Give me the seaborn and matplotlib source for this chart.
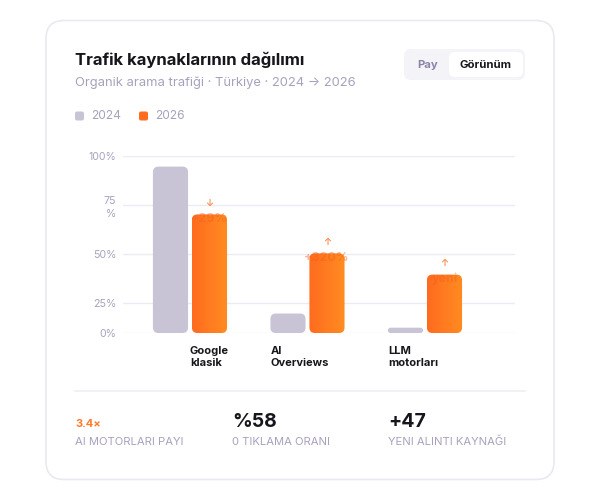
import numpy as np
import pandas as pd
import matplotlib.pyplot as plt
import seaborn as sns
from matplotlib.patches import FancyBboxPatch

# Datos
categorias = ['Google\nklasik', 'AI\nOverviews', 'LLM\nmotorları']
anios = ['2024', '2026']
valores_2024 = [94, 11, 3]
valores_2026 = [67, 45, 33]
cambios = ['−29%', '+320%', 'yeni']
flechas = ['↓', '↑', '↑']
ytick_labels = ['0%', '25%', '50%', '75\n%', '100%']
stat_valores = ['3.4×', '%58', '+47']
stat_textos = ['AI MOTORLARI PAYI', '0 TIKLAMA ORANI', 'YENI ALINTI KAYNAĞI']

gris = '#C9C3D6'
naranja = '#FF6B1F'
naranja2 = '#FF8C22'
texto_gris = '#A8A1BD'
oscuro = '#17161C'

df = pd.DataFrame({
    'categoria': categorias * 2,
    'anio': [anios[0]] * 3 + [anios[1]] * 3,
    'valor': valores_2024 + valores_2026,
})

sns.set_style('white')
plt.rcParams['font.family'] = ['Inter', 'DejaVu Sans']

fig = plt.figure(figsize=(6, 5), dpi=100)

# Fondo / tarjeta en coordenadas de pixel
bg = fig.add_axes([0, 0, 1, 1], zorder=0)
bg.set_xlim(0, 600)
bg.set_ylim(500, 0)
bg.axis('off')
bg.add_patch(FancyBboxPatch((46, 20.5), 508, 459, boxstyle='round,pad=0,rounding_size=18',
                            facecolor='white', edgecolor='#EAE9F0', lw=1.2))

bg.text(75, 60, 'Trafik kaynaklarının dağılımı', fontsize=12, fontweight='bold',
        color=oscuro, va='center', ha='left')
bg.text(75, 82.5, 'Organik arama trafiği · Türkiye · 2024 → 2026', fontsize=9.35,
        color=texto_gris, va='center', ha='left')

# Botón Pay / Görünüm
bg.add_patch(FancyBboxPatch((404, 49), 121, 31, boxstyle='round,pad=0,rounding_size=7',
                            facecolor='#F4F3F8', edgecolor='none'))
bg.add_patch(FancyBboxPatch((449, 52), 74, 25, boxstyle='round,pad=0,rounding_size=6',
                            facecolor='white', edgecolor='none'))
bg.text(428, 65, 'Pay', fontsize=8.2, fontweight='bold', color='#8C84A6', ha='center', va='center')
bg.text(486, 65, 'Görünüm', fontsize=8.2, fontweight='bold', color=oscuro, ha='center', va='center')

# Leyenda
for x0, c, lab in [(75, gris, anios[0]), (139, naranja, anios[1])]:
    bg.add_patch(FancyBboxPatch((x0, 111.5), 9, 9, boxstyle='round,pad=0,rounding_size=2',
                                facecolor=c, edgecolor='none'))
    bg.text(x0 + 16, 116, lab, fontsize=8.6, color=texto_gris, va='center', ha='left')

# Separador y estadísticas
bg.plot([75, 525], [391, 391], color='#EEEDF3', lw=1.2)
bg.text(75, 424, stat_valores[0], fontsize=8, fontweight='bold', color='#FF7A2A', va='center')
bg.text(232, 422, stat_valores[1], fontsize=14, fontweight='bold', color=oscuro, va='center')
bg.text(388, 422, stat_valores[2], fontsize=14, fontweight='bold', color=oscuro, va='center')
for x0, t in zip([75, 232, 388], stat_textos):
    bg.text(x0, 442, t, fontsize=8.1, color=texto_gris, va='center', ha='left')

# Gráfico de barras
ax = fig.add_axes([123 / 600, 167 / 500, 392 / 600, 177 / 500], zorder=1)
ax.patch.set_alpha(0)
sns.barplot(data=df, x='categoria', y='valor', hue='anio', palette=[gris, naranja],
            width=0.664, gap=0.1, legend=False, ax=ax)

ax.set_xlim(-0.570, 2.766)
ax.set_ylim(0, 100)
sx = 392 / (ax.get_xlim()[1] - ax.get_xlim()[0])  # px por unidad x
sy = 177 / 100  # px por unidad y
aspecto = sx / sy

barras = list(ax.patches)
for p in barras:
    x0, y0, w, h = p.get_x(), p.get_y(), p.get_width(), p.get_height()
    es_gris = np.allclose(p.get_facecolor()[:3], plt.matplotlib.colors.to_rgb(gris), atol=0.02)
    p.remove()
    r = min(5.5 / sx, h / aspecto / 2)
    fb = FancyBboxPatch((x0, y0), w, h, boxstyle=f'round,pad=0,rounding_size={r}',
                        mutation_aspect=aspecto, facecolor=gris if es_gris else 'none',
                        edgecolor='none', zorder=3)
    ax.add_patch(fb)
    if not es_gris:
        grad = np.linspace(0, 1, 64).reshape(1, -1)
        cmap = plt.matplotlib.colors.LinearSegmentedColormap.from_list('n', [naranja, naranja2])
        im = ax.imshow(grad, extent=[x0, x0 + w, y0, y0 + h], aspect='auto', cmap=cmap,
                       zorder=3, interpolation='bicubic')
        im.set_clip_path(fb)
        cx = x0 + w / 2
        i = int(round(cx))
        ax.text(cx, y0 + h + 6.5, flechas[i], ha='center', va='center', fontsize=7,
                color='#FF6B1F', zorder=4)
        ax.text(cx, y0 + h - 2.5, cambios[i], ha='center', va='center', fontsize=9,
                fontweight='bold', color='#F25F18', alpha=0.45, zorder=4)

ax.set_xlim(-0.570, 2.766)
ax.set_ylim(0, 100)

# Líneas de guía (posición tal como aparecen en la imagen)
ytick_pos = [0, 16.8, 44.5, 72.3, 100]
ax.set_yticks(ytick_pos)
ax.set_yticklabels(ytick_labels, fontsize=7.6, color=texto_gris, linespacing=1.4)
for y in ytick_pos:
    ax.axhline(y, color='#ECEAF2', lw=1, zorder=1)
ax.tick_params(axis='y', length=0, pad=5)

ax.set_xticks([0, 1 - 0.315, 2 - 0.315])
ax.set_xticklabels(categorias, fontsize=8, fontweight='bold', color=oscuro, ha='left',
                   linespacing=1.3)
ax.tick_params(axis='x', length=0, pad=9)
ax.set_xlabel('')
ax.set_ylabel('')
sns.despine(ax=ax, left=True, bottom=True)
ax.grid(False)

fig.savefig('out.png', dpi=100, facecolor='white')
